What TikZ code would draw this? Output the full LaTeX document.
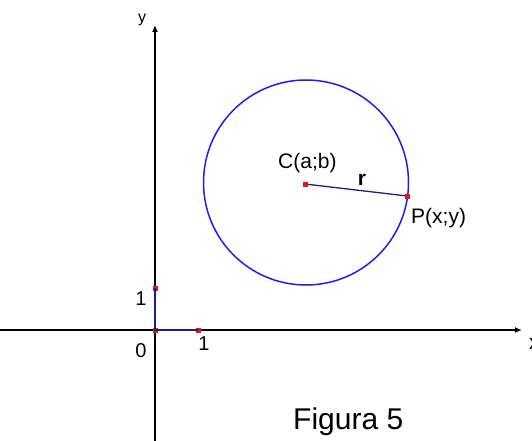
\documentclass[tikz,border=0pt]{standalone}
\usepackage{fontspec}
\setmainfont{Liberation Sans}
\usetikzlibrary{arrows.meta}
\definecolor{CircleBlue}{RGB}{30,30,240}
\definecolor{SegBlue}{RGB}{30,30,130}
\definecolor{DotRed}{RGB}{225,20,40}
\tikzset{
  axisline/.style={-{Latex[length=7pt,width=6pt]}, line width=1.4pt},
  dotpt/.style={rectangle, fill=DotRed, minimum size=5pt, inner sep=0pt},
  lbl/.style={font=\fontsize{21}{24}\selectfont, inner sep=0pt},
  numlbl/.style={font=\fontsize{20}{24}\selectfont, inner sep=0pt, anchor=base}
}
\begin{document}
\begin{tikzpicture}[x=1pt,y=-1pt]
        \useasboundingbox (0,0) rectangle (532,441);
        \clip (0,0) rectangle (532,441);
        % axes
        \coordinate (xl) at (0,330); \coordinate (xr) at (522,330);
        \coordinate (yb) at (155,441); \coordinate (yt) at (155,25);
        \draw[axisline] (xl) -- (xr);
        \draw[axisline] (yb) -- (yt);
        \node[font=\fontsize{16}{18}\selectfont, inner sep=0pt, anchor=base] (ylab) at (142,23) {y};
        \node[lbl, anchor=base west] (xlab) at (529,349) {x};
        % unit points
        \node[dotpt] (O) at (155,330) {};
        \node[dotpt] (A) at (198,330) {};
        \node[dotpt] (B) at (155,288) {};
        \draw[SegBlue, line width=1.3pt] (B.center) -- (O.center) -- (A.center);
        \node[numlbl] (one y) at (141,305) {1};
        \node[numlbl] (zero) at (141,357) {0};
        \node[numlbl] (one x) at (204,350) {1};
        % circle and radius
        \coordinate (C) at (305,184);
        \draw[CircleBlue, line width=1.5pt] (306,182.5) circle[radius=102.5];
        \draw[SegBlue, line width=1.3pt] (C) -- (407,196) coordinate (P);
        \node[dotpt] (Cdot) at (C) {};
        \node[dotpt] (Pdot) at (P) {};
        \node[lbl, anchor=base west] (Clab) at (278,168) {C(a;b)};
        \node[lbl, anchor=base west] (Plab) at (411,223) {P(x;y)};
        \node[lbl, anchor=base, font=\fontsize{21}{24}\selectfont\bfseries] (rlab) at (362,185) {r};
        \node[anchor=base west, inner sep=0pt, font=\fontsize{30}{34}\selectfont] (fig) at (293,429) {Figura 5};
      \end{tikzpicture}
\end{document}
